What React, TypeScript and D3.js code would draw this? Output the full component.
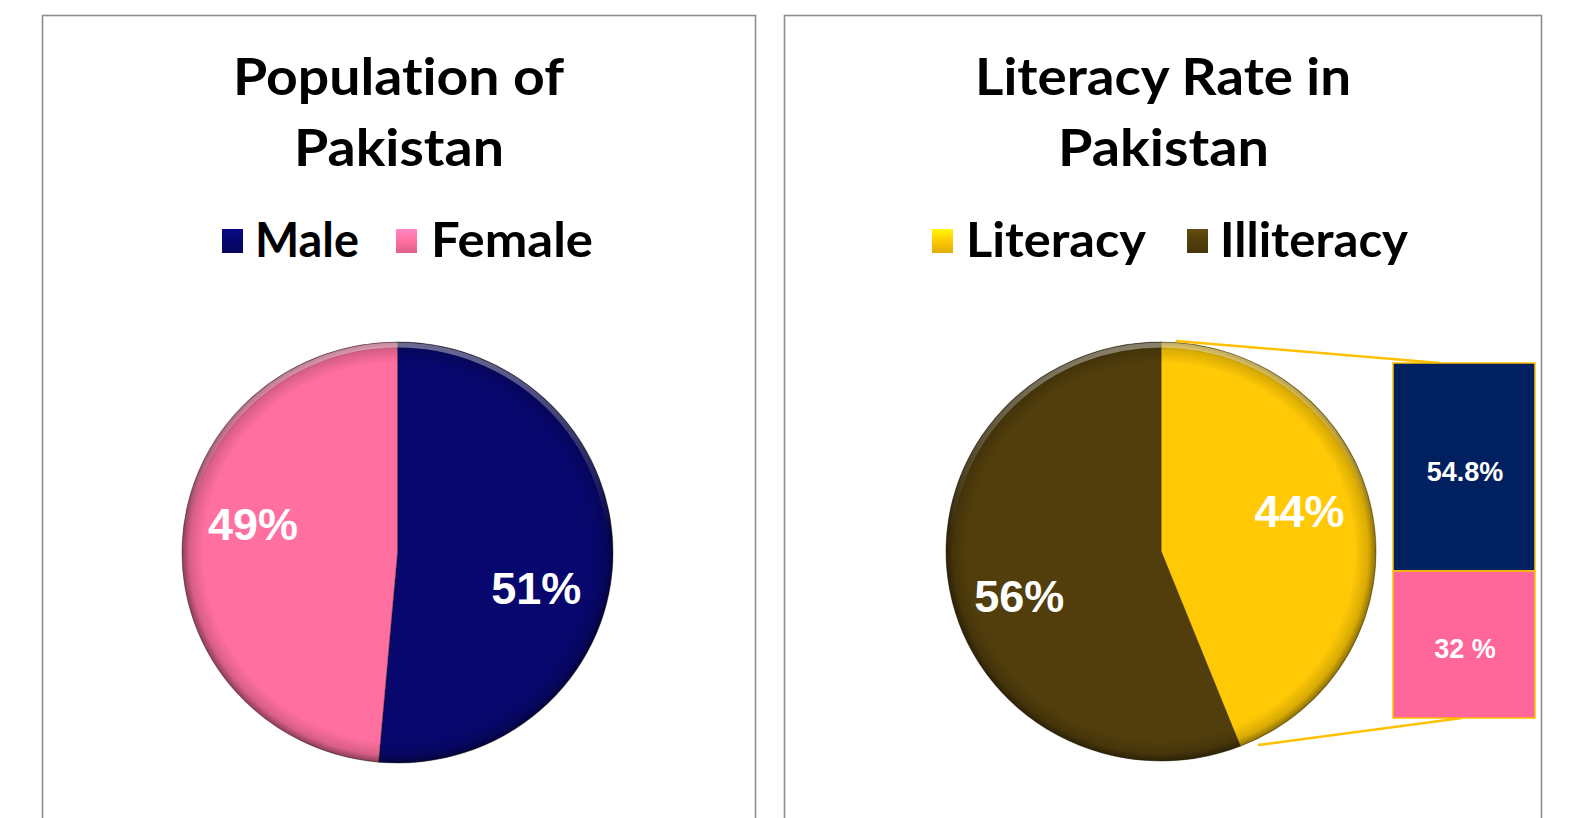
import React from 'react';
import * as d3 from 'd3';

// --- data ---
const popCategories = ['Male', 'Female'];
const popValues = [51.4, 48.6];
const popColors = ['#07076e', '#ff6fa0'];

const litCategories = ['Literacy', 'Illiteracy'];
const litValues = [44, 56];
const litColors = ['#ffc905', '#513e0c'];

const barLabels = ['54.8%', '32 %'];
const barShares = [58.6, 41.4]; // visual split of the bar, not the labels
const barColors = ['#002060', '#ff6699'];

const W = 1577;
const H = 818;
const noLig = { fontVariantLigatures: 'none' as const, fontFeatureSettings: '"liga" 0' };

type PieProps = {
  cx: number; cy: number; rx: number; ry: number;
  values: number[]; colors: string[]; id: string;
  labelR: number[]; labelNudge: number[]; labelSize: number;
};

function Pie({ cx, cy, rx, ry, values, colors, id, labelR, labelNudge, labelSize }: PieProps) {
  const pie = d3.pie<number>().sort(null).value(d => d);
  const arcs = pie(values);
  const arc = d3.arc<d3.PieArcDatum<number>>().innerRadius(0).outerRadius(ry);
  const sx = rx / ry;
  const total = d3.sum(values);
  return (
    <g>
      <defs>
        <radialGradient id={`bevel-${id}`} cx="50%" cy="50%" r="50%">
          <stop offset="0.9" stopColor="#000" stopOpacity={0} />
          <stop offset="0.965" stopColor="#000" stopOpacity={0.15} />
          <stop offset="1" stopColor="#000" stopOpacity={0.45} />
        </radialGradient>
        <linearGradient id={`hl-${id}`} x1="0" y1="0" x2="0" y2="1">
          <stop offset="0" stopColor="#fff" stopOpacity={0.4} />
          <stop offset="0.45" stopColor="#fff" stopOpacity={0} />
        </linearGradient>
      </defs>
      <g transform={`translate(${cx},${cy}) scale(${sx},1)`}>
        {arcs.map((a, i) => (
          <path key={i} d={arc(a) || ''} fill={colors[i]} stroke="#2a1e08" strokeOpacity={0.4} strokeWidth={1} />
        ))}
        <circle r={ry} fill={`url(#bevel-${id})`} />
        <circle r={ry - 3} fill="none" stroke={`url(#hl-${id})`} strokeWidth={5} />
      </g>
      {arcs.map((a, i) => {
        const mid = (a.startAngle + a.endAngle) / 2 + (labelNudge[i] * Math.PI) / 180;
        const r = labelR[i];
        const x = cx + Math.sin(mid) * r * sx;
        const y = cy - Math.cos(mid) * r;
        return (
          <text key={i} x={x} y={y} dy="0.36em" textAnchor="middle" fill="#fff"
            fontFamily="'Liberation Sans', Arial, sans-serif" fontWeight="bold" fontSize={labelSize}>
            {`${Math.round((values[i] / total) * 100)}%`}
          </text>
        );
      })}
    </g>
  );
}

function Legend({ items, colors, boxes, texts, baseline }: {
  items: string[]; colors: string[]; boxes: number[]; texts: [number, number][]; baseline: number;
}) {
  return (
    <g>
      {items.map((t, i) => (
        <g key={t}>
          <defs>
            <linearGradient id={`lg-${t}`} x1="0" y1="0" x2="0" y2="1">
              <stop offset="0" stopColor={d3.rgb(colors[i]).brighter(0.6).toString()} />
              <stop offset="0.5" stopColor={colors[i]} />
              <stop offset="1" stopColor={d3.rgb(colors[i]).darker(0.4).toString()} />
            </linearGradient>
          </defs>
          <rect x={boxes[i]} y={baseline - 28} width={21} height={24} fill={`url(#lg-${t})`} />
          <text x={texts[i][0]} y={baseline} textLength={texts[i][1] - texts[i][0]} lengthAdjust="spacingAndGlyphs"
            style={noLig} fontFamily="Lato, 'Open Sans', sans-serif" fontWeight="bold" fontSize={48} fill="#000">{t}</text>
        </g>
      ))}
    </g>
  );
}

function Title({ lines }: { lines: { t: string; x0: number; x1: number; y: number }[] }) {
  return (
    <g>
      {lines.map(l => (
        <text key={l.t} x={l.x0} y={l.y} textLength={l.x1 - l.x0} lengthAdjust="spacingAndGlyphs"
          style={noLig} fontFamily="Lato, 'Open Sans', sans-serif" fontWeight="bold" fontSize={52} fill="#000">{l.t}</text>
      ))}
    </g>
  );
}

export default function App() {
  // bar of pie
  const bx = 1393, bw = 142, bTop = 363, bBottom = 718;
  const y = d3.scaleLinear().domain([0, d3.sum(barShares)]).range([bTop, bBottom]);
  const stack = barShares.map((v, i) => {
    const s = d3.sum(barShares.slice(0, i));
    return { y0: y(s), y1: y(s + v), label: barLabels[i], color: barColors[i] };
  });

  return (
    <svg width={W} height={H} style={{ position: 'absolute', left: 0, top: 0, background: '#fff' }}>
      {/* panels */}
      <rect x={42.5} y={15.5} width={713} height={830} fill="#fff" stroke="#8e8e8e" strokeWidth={1.6} />
      <rect x={784.5} y={15.5} width={757} height={830} fill="#fff" stroke="#8e8e8e" strokeWidth={1.6} />

      <Title lines={[
        { t: 'Population of', x0: 233, x1: 564, y: 95 },
        { t: 'Pakistan', x0: 294, x1: 504, y: 166 },
      ]} />
      <Legend items={popCategories} colors={popColors} boxes={[222, 396]} texts={[[255, 359], [431, 593]]} baseline={257} />
      <Pie id="pop" cx={397.5} cy={552.5} rx={215.5} ry={210.5} values={popValues} colors={popColors}
        labelR={[140, 144]} labelNudge={[12, 9]} labelSize={45} />

      <Title lines={[
        { t: 'Literacy Rate in', x0: 975, x1: 1351, y: 95 },
        { t: 'Pakistan', x0: 1058, x1: 1269, y: 166 },
      ]} />
      <Legend items={litCategories} colors={litColors} boxes={[932, 1187]} texts={[[966, 1146], [1220, 1408]]} baseline={257} />
      <Pie id="lit" cx={1161} cy={551.5} rx={215} ry={209.5} values={litValues} colors={litColors}
        labelR={[141, 145]} labelNudge={[-6, -7]} labelSize={45} />

      {/* connector lines */}
      <line x1={1176} y1={341} x2={1440} y2={363} stroke="#ffc000" strokeWidth={2.5} />
      <line x1={1258} y1={745} x2={1462} y2={718} stroke="#ffc000" strokeWidth={2.5} />

      {stack.map(s => (
        <g key={s.label}>
          <rect x={bx} y={s.y0} width={bw} height={s.y1 - s.y0} fill={s.color} stroke="#ffc000" strokeWidth={1.5} />
          <text x={bx + bw / 2 + 1} y={(s.y0 + s.y1) / 2 + 4} dy="0.36em" textAnchor="middle" fill="#fff"
            fontFamily="'Liberation Sans', Arial, sans-serif" fontWeight="bold" fontSize={27}>{s.label}</text>
        </g>
      ))}
    </svg>
  );
}
